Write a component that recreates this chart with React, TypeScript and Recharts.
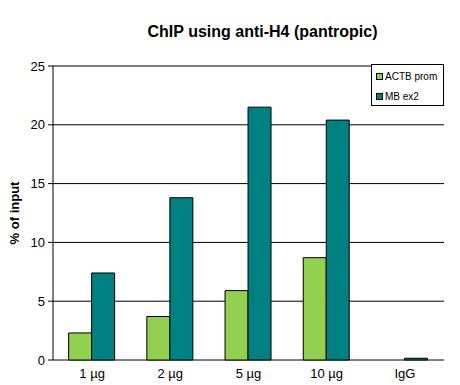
import { BarChart, Bar, XAxis, YAxis, CartesianGrid, Legend, ReferenceLine } from 'recharts';

const categories = ['1 µg', '2 µg', '5 µg', '10 µg', 'IgG'];
const actbProm = [2.3, 3.7, 5.9, 8.7, 0];
const mbEx2 = [7.4, 13.8, 21.5, 20.4, 0.15];
const yTicks = [0, 5, 10, 15, 20, 25];

const FONT = '"Liberation Sans", Arial, sans-serif';
const GREEN = '#92D050';
const TEAL = '#008080';

const data = categories.map((name, i) => ({
  name,
  idx: i + 0.5,
  actb: actbProm[i],
  mb: mbEx2[i],
}));

function LegendBox() {
  const items = [
    { label: 'ACTB prom', color: GREEN },
    { label: 'MB ex2', color: TEAL },
  ];
  return (
    <div
      style={{
        width: 73,
        height: 42,
        border: '1px solid #000',
        background: '#fff',
        fontFamily: FONT,
        fontSize: 10,
        boxSizing: 'border-box',
        padding: '1px 0 0 4px',
      }}
    >
      {items.map((it) => (
        <div key={it.label} style={{ display: 'flex', alignItems: 'center', height: 20 }}>
          <span
            style={{
              display: 'inline-block',
              width: 5,
              height: 5,
              background: it.color,
              border: '1px solid #000',
              marginRight: 2,
            }}
          />
          {it.label}
        </div>
      ))}
    </div>
  );
}

export default function App() {
  return (
    <div style={{ position: 'absolute', left: 0, top: 0, width: 460, height: 385, background: '#fff' }}>
      <div
        style={{
          position: 'absolute',
          left: 0,
          top: 23,
          width: 525,
          textAlign: 'center',
          fontFamily: FONT,
          fontWeight: 'bold',
          fontSize: 16,
        }}
      >
        ChIP using anti-H4 (pantropic)
      </div>
      <BarChart
        width={460}
        height={385}
        data={data}
        margin={{ top: 66, right: 16, bottom: 0, left: 0 }}
        barCategoryGap="20%"
        barGap={0}
      >
        <CartesianGrid vertical={false} stroke="#000" strokeDasharray="" />
        <XAxis
          xAxisId="ticks"
          type="number"
          dataKey="idx"
          domain={[0, 5]}
          ticks={[0, 1, 2, 3, 4, 5]}
          tick={false}
          tickSize={5}
          height={0}
          stroke="#000"
        />
        <XAxis
          dataKey="name"
          axisLine={false}
          tickLine={false}
          tickSize={6}
          tickMargin={3}
          height={25}
          tick={{ fill: '#000', fontSize: 13, fontFamily: FONT }}
        />
        <YAxis
          width={53}
          domain={[0, 25]}
          ticks={yTicks}
          tickSize={5}
          tickMargin={3}
          stroke="#000"
          tick={{ fill: '#000', fontSize: 13, fontFamily: FONT }}
          label={() => (
            <text
              x={14}
              y={213}
              transform="rotate(-90 14 213)"
              textAnchor="middle"
              dominantBaseline="central"
              fontFamily={FONT}
              fontWeight="bold"
              fontSize={13}
              fill="#000"
            >
              % of input
            </text>
          )}
        />
        <YAxis yAxisId="right" orientation="right" width={0} tick={false} tickLine={false} stroke="#808080" />
        <ReferenceLine y={25} stroke="#808080" />
        <Legend
          layout="vertical"
          verticalAlign="middle"
          align="center"
          content={() => <LegendBox />}
          wrapperStyle={{ top: 64, left: 371, width: 73 }}
        />
        <Bar dataKey="actb" name="ACTB prom" fill={GREEN} stroke="#000" strokeWidth={1} isAnimationActive={false} />
        <Bar dataKey="mb" name="MB ex2" fill={TEAL} stroke="#000" strokeWidth={1} isAnimationActive={false} />
      </BarChart>
    </div>
  );
}
